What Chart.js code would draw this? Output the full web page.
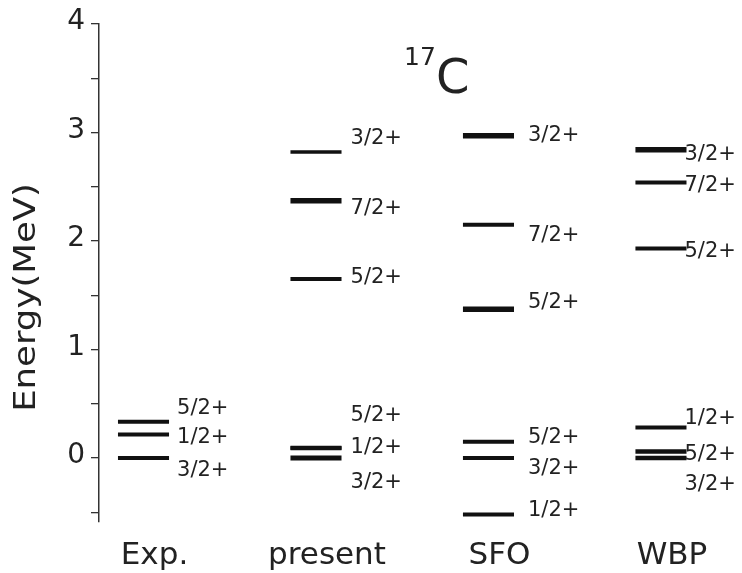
<!DOCTYPE html>
<html>
<head>
<meta charset="utf-8">
<script src="https://cdn.jsdelivr.net/npm/chart.js@4.4.0/dist/chart.umd.min.js"></script>
<style>
  html, body { margin: 0; padding: 0; background: #fff; }
</style>
</head>
<body>
<canvas id="levels" width="742" height="573"></canvas>
<script>
const categories = ["Exp.", "present", "SFO", "WBP"];

// level energies (MeV) and spin-parity for each column
const expEnergy = [0, 0.217, 0.335];
const expSpin = ["3/2+", "1/2+", "5/2+"];
const presentEnergy = [0, 0.09, 0.095, 1.65, 2.37, 2.82];
const presentSpin = ["3/2+", "1/2+", "5/2+", "5/2+", "7/2+", "3/2+"];
const sfoEnergy = [-0.52, 0, 0.15, 1.37, 2.15, 2.97];
const sfoSpin = ["1/2+", "3/2+", "5/2+", "5/2+", "7/2+", "3/2+"];
const wbpEnergy = [0, 0.06, 0.28, 1.93, 2.54, 2.84];
const wbpSpin = ["3/2+", "5/2+", "1/2+", "5/2+", "7/2+", "3/2+"];

// where the spin text is written (MeV), pulled apart so labels don't collide
const expLabelAt = [-0.095, 0.21, 0.48];
const presentLabelAt = [-0.21, 0.12, 0.41, 1.685, 2.32, 2.96];
const sfoLabelAt = [-0.465, -0.08, 0.21, 1.455, 2.07, 2.99];
const wbpLabelAt = [-0.22, 0.055, 0.38, 1.92, 2.53, 2.82];

const yTicks = [-0.5, 0, 0.5, 1, 1.5, 2, 2.5, 3, 3.5, 4];

// styling (not data)
const expWidth = [4, 4, 4];
const presentWidth = [5, 4, 4, 4, 5.5, 3.5];
const sfoWidth = [4, 4, 4, 5.5, 4, 5.5];
const wbpWidth = [4.5, 4.5, 4, 4, 4, 5.5];
const labelGap = [8, 9, 14, -2];   // px between line end and spin text
const halfLen = 0.148;             // half length of a level line, in column units

const columns = [
  { E: expEnergy, J: expSpin, at: expLabelAt, w: expWidth },
  { E: presentEnergy, J: presentSpin, at: presentLabelAt, w: presentWidth },
  { E: sfoEnergy, J: sfoSpin, at: sfoLabelAt, w: sfoWidth },
  { E: wbpEnergy, J: wbpSpin, at: wbpLabelAt, w: wbpWidth }
];

const ink = "#111";
const textCol = "#222";
const fam = "'DejaVu Sans', sans-serif";

const datasets = [];
columns.forEach((col, i) => {
  col.E.forEach((e, k) => {
    datasets.push({
      data: [{ x: i - halfLen, y: e }, { x: i + halfLen, y: e }],
      borderColor: ink,
      borderWidth: col.w[k],
      borderCapStyle: "butt",
      pointRadius: 0,
      fill: false
    });
  });
});

// spin labels, nucleus title, y axis title
const annotate = {
  id: "annotate",
  afterDatasetsDraw(chart) {
    const { ctx, scales: { x, y } } = chart;
    ctx.save();
    ctx.fillStyle = textCol;
    ctx.textAlign = "left";
    ctx.textBaseline = "alphabetic";
    ctx.font = "21px " + fam;
    columns.forEach((col, i) => {
      const px = x.getPixelForValue(i + halfLen) + labelGap[i];
      col.J.forEach((j, k) => {
        const py = y.getPixelForValue(col.at[k]) + 0.3645 * 21;
        ctx.fillText(j, px, py);
      });
    });

    // 17C
    ctx.font = "25px " + fam;
    ctx.fillText("17", 404, 65);
    ctx.font = "48px " + fam;
    ctx.fillText("C", 436, 93);

    // Energy(MeV)
    ctx.translate(27.5, 297.5);
    ctx.rotate(-Math.PI / 2);
    ctx.scale(1, 0.83);
    ctx.textAlign = "center";
    ctx.font = "35.5px " + fam;
    ctx.fillText("Energy(MeV)", 0, 9.3);
    ctx.restore();
  }
};

new Chart(document.getElementById("levels"), {
  type: "line",
  data: { datasets },
  plugins: [annotate],
  options: {
    responsive: false,
    devicePixelRatio: 1,
    animation: false,
    events: [],
    layout: { padding: { left: 0, right: 1, top: 24, bottom: 0 } },
    plugins: { legend: { display: false }, tooltip: { enabled: false } },
    scales: {
      x: {
        type: "linear",
        min: -0.258,
        max: 3.464,
        afterBuildTicks: (s) => { s.ticks = categories.map((c, i) => ({ value: i })); },
        afterFit: (s) => { s.height = 51; },
        grid: { display: false },
        border: { display: false },
        ticks: {
          callback: (v) => categories[v],
          font: { family: fam, size: 31 },
          color: textCol,
          labelOffset: 11,
          padding: 7,
          autoSkip: false,
          maxRotation: 0
        }
      },
      y: {
        min: -0.59,
        max: 4,
        afterBuildTicks: (s) => { s.ticks = yTicks.map(v => ({ value: v })); },
        afterFit: (s) => { s.width = 99; },
        grid: { drawOnChartArea: false, tickLength: 8, color: "#333", lineWidth: 1.3 },
        border: { display: true, color: "#333", width: 1.5 },
        ticks: {
          callback: (v) => (Number.isInteger(v) ? String(v) : ""),
          font: { family: fam, size: 28 },
          color: textCol,
          padding: 6,
          labelOffset: -2,
          autoSkip: false
        }
      }
    }
  }
});
</script>
</body>
</html>
